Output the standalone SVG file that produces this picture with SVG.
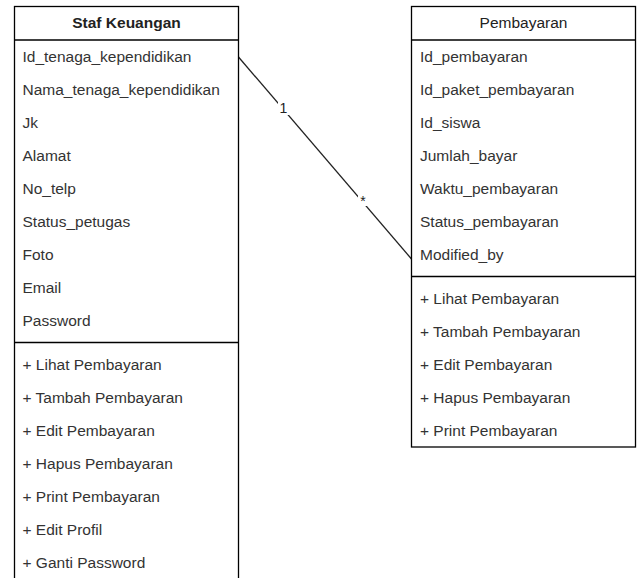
<svg xmlns="http://www.w3.org/2000/svg" width="637" height="578" viewBox="0 0 637 578">
  <style>
    .box { fill: #ffffff; stroke: #000000; stroke-width: 1.3; }
    .sep { stroke: #000000; stroke-width: 1.3; fill: none; }
    .head { font-family: "Liberation Sans", Arial, sans-serif; font-size: 15.5px; fill: #222222; text-anchor: middle; }
    .item { font-family: "Liberation Sans", Arial, sans-serif; font-size: 15.5px; fill: #333333; }
    .edge { stroke: #222222; stroke-width: 1.3; fill: none; }
    .mult { font-family: "Liberation Sans", Arial, sans-serif; font-size: 14px; fill: #222222; text-anchor: middle; }
  </style>
  <rect width="637" height="578" fill="#ffffff"/>

  <g id="connectors">
    <line class="edge" x1="238.5" y1="57" x2="411.5" y2="259"/>
    <rect x="278" y="98" width="11" height="17" fill="#ffffff"/>
    <text class="mult" x="283.5" y="113">1</text>
    <rect x="358" y="193" width="10" height="13" fill="#ffffff"/>
    <text class="mult" x="363" y="206">*</text>
  </g>

  <g id="staf-keuangan">
    <rect class="box" x="14.5" y="6.5" width="224" height="580"/>
    <line class="sep" x1="14.5" y1="40" x2="238.5" y2="40"/>
    <text class="head" x="126.5" y="28" font-weight="bold">Staf Keuangan</text>
    <text class="item" x="22.5" y="62">Id_tenaga_kependidikan</text>
    <text class="item" x="22.5" y="95">Nama_tenaga_kependidikan</text>
    <text class="item" x="22.5" y="128">Jk</text>
    <text class="item" x="22.5" y="161">Alamat</text>
    <text class="item" x="22.5" y="194">No_telp</text>
    <text class="item" x="22.5" y="227">Status_petugas</text>
    <text class="item" x="22.5" y="260">Foto</text>
    <text class="item" x="22.5" y="293">Email</text>
    <text class="item" x="22.5" y="326">Password</text>
    <line class="sep" x1="14.5" y1="342.5" x2="238.5" y2="342.5"/>
    <text class="item" x="22.5" y="370">+ Lihat Pembayaran</text>
    <text class="item" x="22.5" y="403">+ Tambah Pembayaran</text>
    <text class="item" x="22.5" y="436">+ Edit Pembayaran</text>
    <text class="item" x="22.5" y="469">+ Hapus Pembayaran</text>
    <text class="item" x="22.5" y="502">+ Print Pembayaran</text>
    <text class="item" x="22.5" y="535">+ Edit Profil</text>
    <text class="item" x="22.5" y="568">+ Ganti Password</text>
  </g>

  <g id="pembayaran">
    <rect class="box" x="411.5" y="6.5" width="224" height="440.5"/>
    <line class="sep" x1="411.5" y1="40" x2="635.5" y2="40"/>
    <text class="head" x="523.5" y="28">Pembayaran</text>
    <text class="item" x="420" y="62">Id_pembayaran</text>
    <text class="item" x="420" y="95">Id_paket_pembayaran</text>
    <text class="item" x="420" y="128">Id_siswa</text>
    <text class="item" x="420" y="161">Jumlah_bayar</text>
    <text class="item" x="420" y="194">Waktu_pembayaran</text>
    <text class="item" x="420" y="227">Status_pembayaran</text>
    <text class="item" x="420" y="260">Modified_by</text>
    <line class="sep" x1="411.5" y1="276.5" x2="635.5" y2="276.5"/>
    <text class="item" x="420" y="304">+ Lihat Pembayaran</text>
    <text class="item" x="420" y="337">+ Tambah Pembayaran</text>
    <text class="item" x="420" y="370">+ Edit Pembayaran</text>
    <text class="item" x="420" y="403">+ Hapus Pembayaran</text>
    <text class="item" x="420" y="436">+ Print Pembayaran</text>
  </g>
</svg>
